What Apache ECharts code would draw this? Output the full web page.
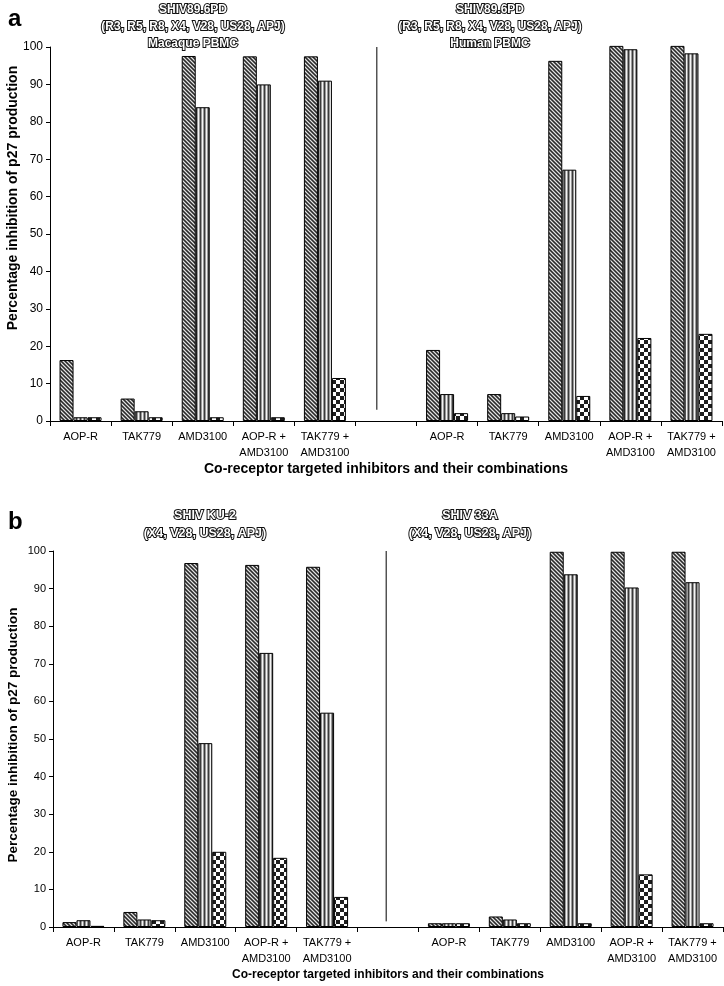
<!DOCTYPE html>
<html>
<head>
<meta charset="utf-8">
<script src="https://cdn.jsdelivr.net/npm/echarts@6/dist/echarts.min.js"></script>
<style>
html,body{margin:0;padding:0;background:#fff;}
#chart{width:724px;height:986px;}
</style>
</head>
<body>
<div id="chart"></div>
<script>
// ---------------- DATA ----------------
var categories = ['AOP-R', 'TAK779', 'AMD3100', 'AOP-R +\nAMD3100', 'TAK779 +\nAMD3100', '',
                  'AOP-R', 'TAK779', 'AMD3100', 'AOP-R +\nAMD3100', 'TAK779 +\nAMD3100'];
var yTicks = [0, 10, 20, 30, 40, 50, 60, 70, 80, 90, 100];

// Panel a
var aDiag  = [16.3, 6.0, 97.6, 97.5, 97.5, null, 19.0, 7.2, 96.3, 100.3, 100.3];
var aVert  = [1.0, 2.6, 83.9, 90.0, 91.0, null, 7.2, 2.1, 67.2, 99.4, 98.3];
var aCheck = [1.0, 1.0, 1.0, 1.0, 11.5, null, 2.1, 1.2, 6.7, 22.2, 23.3];
// Panel b
var bDiag  = [1.3, 4.0, 96.8, 96.3, 95.8, null, 1.0, 2.8, 99.8, 99.8, 99.8];
var bVert  = [1.8, 2.0, 48.9, 72.9, 57.0, null, 1.0, 2.0, 93.8, 90.3, 91.7];
var bCheck = [0.3, 1.8, 20.0, 18.4, 8.0, null, 1.0, 1.0, 1.0, 14.0, 1.0];

// divider between the two virus groups (category-index units, value)
var dividerA = [[5.35, 100], [5.35, 3]];
var dividerB = [[5.47, 100], [5.47, 1.5]];

var titleA1 = 'SHIV89.6PD\n(R3, R5, R8, X4, V28, US28, APJ)\nMacaque PBMC';
var titleA2 = 'SHIV89.6PD\n(R3, R5, R8, X4, V28, US28, APJ)\nHuman PBMC';
var titleB1 = 'SHIV KU-2\n(X4, V28, US28, APJ)';
var titleB2 = 'SHIV 33A\n(X4, V28, US28, APJ)';
var yTitle = 'Percentage inhibition of p27 production';
var xTitle = 'Co-receptor targeted inhibitors and their combinations';

// ---------------- PATTERNS ----------------
function makePattern(size, fn) {
  var c = document.createElement('canvas');
  c.width = size; c.height = size;
  var ctx = c.getContext('2d');
  for (var x = 0; x < size; x++) {
    for (var y = 0; y < size; y++) {
      ctx.fillStyle = fn(x, y);
      ctx.fillRect(x, y, 1, 1);
    }
  }
  return c;
}
var diagCanvas = makePattern(8, function (x, y) {
  var v = ((x - y) % 4 + 4) % 4;
  return ['#2a2a2a', '#707070', '#e2e2e2', '#707070'][v];
});
var vertCanvas = makePattern(8, function (x, y) {
  var v = x % 4;
  return ['#3a3a3a', '#9a9a9a', '#f4f4f4', '#9a9a9a'][v];
});
var checkCanvas = makePattern(8, function (x, y) {
  return ((Math.floor(x / 4) + Math.floor(y / 4)) % 2) ? '#ffffff' : '#1e1e1e';
});
var patDiag = { image: diagCanvas, repeat: 'repeat' };
var patVert = { image: vertCanvas, repeat: 'repeat' };
var patCheck = { image: checkCanvas, repeat: 'repeat' };

// ---------------- CHART ----------------
var FONT = '"Liberation Sans", Arial, sans-serif';
var chart = echarts.init(document.getElementById('chart'), null, { renderer: 'canvas' });

function catAxis(grid, fs, nameGap, nameFs) {
  return {
    type: 'category', gridIndex: grid, data: categories,
    axisLine: { lineStyle: { color: '#000', width: 1 } },
    axisTick: { show: true, interval: 0, length: 5, lineStyle: { color: '#000' } },
    axisLabel: { interval: 0, color: '#000', fontSize: fs, fontFamily: FONT, lineHeight: 16, margin: 8 },
    name: xTitle, nameLocation: 'middle', nameGap: nameGap,
    nameTextStyle: { color: '#000', fontSize: nameFs, fontWeight: 'bold', fontFamily: FONT }
  };
}
function valAxis(grid, fs) {
  return {
    type: 'value', gridIndex: grid, min: 0, max: 100, interval: 10,
    axisLine: { show: true, lineStyle: { color: '#000', width: 1 } },
    axisTick: { show: true, length: 4, lineStyle: { color: '#000' } },
    splitLine: { show: false },
    axisLabel: { color: '#000', fontSize: fs, fontFamily: FONT, margin: 7 }
  };
}
function hiddenX(grid) {
  return { type: 'value', gridIndex: grid, min: 0, max: categories.length, show: false };
}
function bar(data, pat, xi, yi) {
  return {
    type: 'bar', data: data, xAxisIndex: xi, yAxisIndex: yi,
    barWidth: 14, barGap: '0%', clip: false, silent: true,
    itemStyle: { color: pat, borderColor: '#000', borderWidth: 1 }
  };
}
function divider(data, xi, yi) {
  return {
    type: 'line', data: data, xAxisIndex: xi, yAxisIndex: yi, symbol: 'none', silent: true,
    lineStyle: { color: '#000', width: 1 }
  };
}
function outlined(text, x, y, fs, lh) {
  return {
    type: 'text', x: x, y: y, silent: true,
    style: {
      text: text, textAlign: 'center', textVerticalAlign: 'top',
      font: 'bold ' + fs + 'px ' + FONT, lineHeight: lh,
      fill: '#ffffff', stroke: '#111111', lineWidth: 2, strokeFirst: true
    }
  };
}

var option = {
  backgroundColor: '#fff',
  animation: false,
  grid: [
    { left: 50, right: 2, top: 47, height: 374 },
    { left: 53, right: 1, top: 551, height: 376 }
  ],
  xAxis: [catAxis(0, 11, 40, 14), catAxis(1, 11, 42, 12), hiddenX(0), hiddenX(1)],
  yAxis: [valAxis(0, 12), valAxis(1, 11)],
  series: [
    bar(aDiag, patDiag, 0, 0), bar(aVert, patVert, 0, 0), bar(aCheck, patCheck, 0, 0),
    bar(bDiag, patDiag, 1, 1), bar(bVert, patVert, 1, 1), bar(bCheck, patCheck, 1, 1),
    divider(dividerA, 2, 0), divider(dividerB, 3, 1)
  ],
  graphic: [
    { type: 'text', x: 8, y: 7, silent: true, style: { text: 'a', font: 'bold 24px ' + FONT, fill: '#000' } },
    { type: 'text', x: 8, y: 510, silent: true, style: { text: 'b', font: 'bold 24px ' + FONT, fill: '#000' } },
    outlined(titleA1, 193, 1, 12, 17),
    outlined(titleA2, 490, 1, 12, 17),
    outlined(titleB1, 205, 507, 12.5, 18),
    outlined(titleB2, 470, 507, 12.5, 18),
    { type: 'text', x: 13, y: 198, rotation: Math.PI / 2, silent: true,
      style: { text: yTitle, textAlign: 'center', textVerticalAlign: 'middle', font: 'bold 14px ' + FONT, fill: '#000' } },
    { type: 'text', x: 13, y: 735, rotation: Math.PI / 2, silent: true,
      style: { text: yTitle, textAlign: 'center', textVerticalAlign: 'middle', font: 'bold 13.5px ' + FONT, fill: '#000' } }
  ]
};
chart.setOption(option);
</script>
</body>
</html>
